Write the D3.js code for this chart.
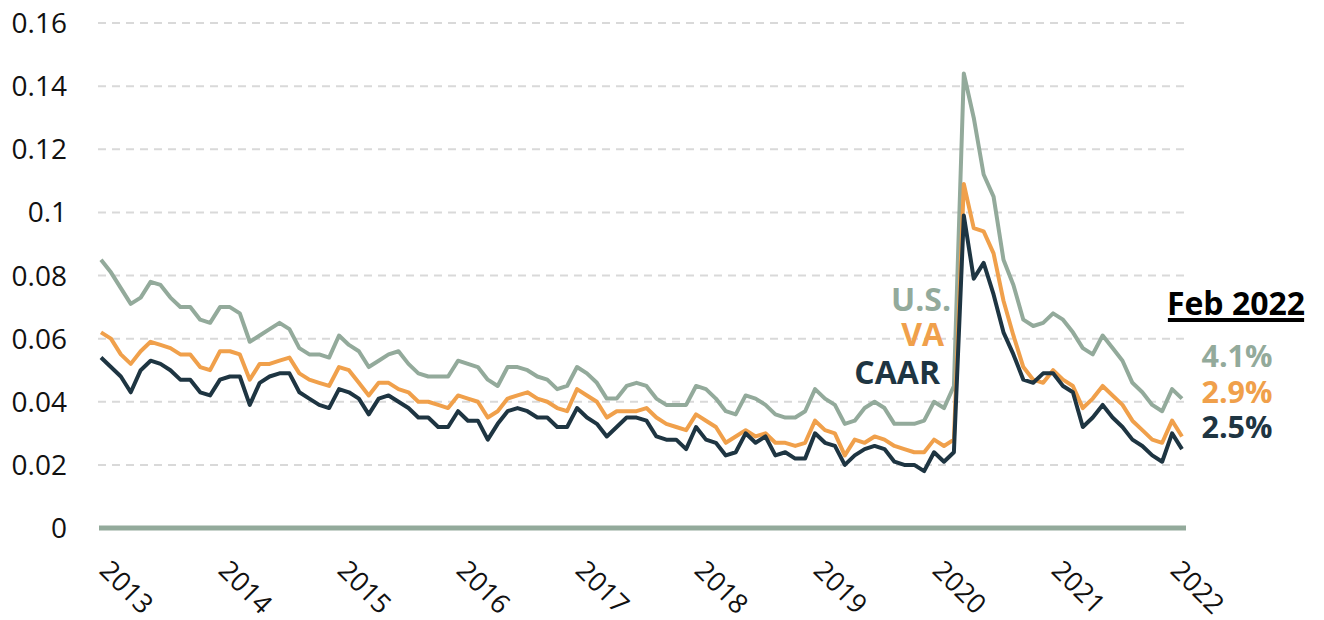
<!DOCTYPE html>
<html>
<head>
<meta charset="utf-8">
<script src="https://cdn.jsdelivr.net/npm/d3@7"></script>
<style>
    body { margin: 0; background: #fff; }
    svg { font-family: "Open Sans", sans-serif; }
</style>
</head>
<body>
<svg id="grafico" width="1324" height="620"></svg>
<script>

// monthly unemployment rate, Jan 2013 - Feb 2022 (percent)
const usRate = [
    8.5, 8.1, 7.6, 7.1, 7.3, 7.8, 7.7, 7.3, 7.0, 7.0, 6.6, 6.5,
    7.0, 7.0, 6.8, 5.9, 6.1, 6.3, 6.5, 6.3, 5.7, 5.5, 5.5, 5.4,
    6.1, 5.8, 5.6, 5.1, 5.3, 5.5, 5.6, 5.2, 4.9, 4.8, 4.8, 4.8,
    5.3, 5.2, 5.1, 4.7, 4.5, 5.1, 5.1, 5.0, 4.8, 4.7, 4.4, 4.5,
    5.1, 4.9, 4.6, 4.1, 4.1, 4.5, 4.6, 4.5, 4.1, 3.9, 3.9, 3.9,
    4.5, 4.4, 4.1, 3.7, 3.6, 4.2, 4.1, 3.9, 3.6, 3.5, 3.5, 3.7,
    4.4, 4.1, 3.9, 3.3, 3.4, 3.8, 4.0, 3.8, 3.3, 3.3, 3.3, 3.4,
    4.0, 3.8, 4.5, 14.4, 13.0, 11.2, 10.5, 8.5, 7.7, 6.6, 6.4, 6.5,
    6.8, 6.6, 6.2, 5.7, 5.5, 6.1, 5.7, 5.3, 4.6, 4.3, 3.9, 3.7,
    4.4, 4.1
];

const vaRate = [
    6.2, 6.0, 5.5, 5.2, 5.6, 5.9, 5.8, 5.7, 5.5, 5.5, 5.1, 5.0,
    5.6, 5.6, 5.5, 4.7, 5.2, 5.2, 5.3, 5.4, 4.9, 4.7, 4.6, 4.5,
    5.1, 5.0, 4.6, 4.2, 4.6, 4.6, 4.4, 4.3, 4.0, 4.0, 3.9, 3.8,
    4.2, 4.1, 4.0, 3.5, 3.7, 4.1, 4.2, 4.3, 4.1, 4.0, 3.8, 3.7,
    4.4, 4.2, 4.0, 3.5, 3.7, 3.7, 3.7, 3.8, 3.5, 3.3, 3.2, 3.1,
    3.6, 3.4, 3.2, 2.7, 2.9, 3.1, 2.9, 3.0, 2.7, 2.7, 2.6, 2.7,
    3.4, 3.1, 3.0, 2.3, 2.8, 2.7, 2.9, 2.8, 2.6, 2.5, 2.4, 2.4,
    2.8, 2.6, 2.8, 10.9, 9.5, 9.4, 8.7, 7.2, 6.1, 5.1, 4.7, 4.6,
    5.0, 4.7, 4.5, 3.8, 4.1, 4.5, 4.2, 3.9, 3.4, 3.1, 2.8, 2.7,
    3.4, 2.9
];

const caarRate = [
    5.4, 5.1, 4.8, 4.3, 5.0, 5.3, 5.2, 5.0, 4.7, 4.7, 4.3, 4.2,
    4.7, 4.8, 4.8, 3.9, 4.6, 4.8, 4.9, 4.9, 4.3, 4.1, 3.9, 3.8,
    4.4, 4.3, 4.1, 3.6, 4.1, 4.2, 4.0, 3.8, 3.5, 3.5, 3.2, 3.2,
    3.7, 3.4, 3.4, 2.8, 3.3, 3.7, 3.8, 3.7, 3.5, 3.5, 3.2, 3.2,
    3.8, 3.5, 3.3, 2.9, 3.2, 3.5, 3.5, 3.4, 2.9, 2.8, 2.8, 2.5,
    3.2, 2.8, 2.7, 2.3, 2.4, 3.0, 2.7, 2.9, 2.3, 2.4, 2.2, 2.2,
    3.0, 2.7, 2.6, 2.0, 2.3, 2.5, 2.6, 2.5, 2.1, 2.0, 2.0, 1.8,
    2.4, 2.1, 2.4, 9.9, 7.9, 8.4, 7.4, 6.2, 5.5, 4.7, 4.6, 4.9,
    4.9, 4.5, 4.3, 3.2, 3.5, 3.9, 3.5, 3.2, 2.8, 2.6, 2.3, 2.1,
    3.0, 2.5
];

const seriesNames = ["U.S.", "VA", "CAAR"];
const yearLabels = ["2013", "2014", "2015", "2016", "2017", "2018", "2019", "2020", "2021", "2022"];
const yTicks = [0, 0.02, 0.04, 0.06, 0.08, 0.1, 0.12, 0.14, 0.16];
const lastMonthLabel = "Feb 2022";

const colores = ["#93aa9b", "#f0a04b", "#1e3542"];

const svg = d3.select("#grafico");

const x = d3.scaleLinear()
    .domain([0, usRate.length - 1])
    .range([101, 1182]);

const y = d3.scaleLinear()
    .domain([0, 0.16])
    .range([528, 23]);

// gridlines
svg.append("g")
    .selectAll("line")
    .data(yTicks.filter(d => d > 0))
    .enter()
    .append("line")
    .attr("x1", 98)
    .attr("x2", 1186)
    .attr("y1", d => y(d))
    .attr("y2", d => y(d))
    .attr("stroke", "#d9d9d9")
    .attr("stroke-width", 2)
    .attr("stroke-dasharray", "8,6");

// y labels
svg.append("g")
    .selectAll("text")
    .data(yTicks)
    .enter()
    .append("text")
    .attr("x", 67)
    .attr("y", d => y(d))
    .attr("dy", "0.36em")
    .attr("text-anchor", "end")
    .style("font-size", "28px")
    .style("fill", "#111")
    .text(d => String(d));

// base axis
svg.append("line")
    .attr("x1", 99)
    .attr("x2", 1186)
    .attr("y1", y(0))
    .attr("y2", y(0))
    .attr("stroke", colores[0])
    .attr("stroke-width", 5);

// year labels
svg.append("g")
    .selectAll("text")
    .data(yearLabels)
    .enter()
    .append("text")
    .attr("transform", (d, i) => `translate(${x(i * 12) - 3},572) rotate(45)`)
    .style("font-size", "27px")
    .style("fill", "#111")
    .text(d => d);

// lines
const linea = d3.line()
    .x((d, i) => x(i))
    .y(d => y(d / 100));

[usRate, vaRate, caarRate].forEach((serie, k) => {

    svg.append("path")
        .datum(serie)
        .attr("d", linea)
        .attr("fill", "none")
        .attr("stroke", colores[k])
        .attr("stroke-width", 4)
        .attr("stroke-linejoin", "round");

});

// series names
const nombresX = [951, 944, 940];
const nombresY = [311, 346, 384];

seriesNames.forEach((nombre, k) => {

    svg.append("text")
        .attr("x", nombresX[k])
        .attr("y", nombresY[k])
        .attr("text-anchor", "end")
        .style("font-size", "32px")
        .style("font-weight", "bold")
        .style("fill", colores[k])
        .text(nombre);

});

// last value block
const titulo = svg.append("text")
    .attr("x", 1236)
    .attr("y", 315)
    .attr("text-anchor", "middle")
    .style("font-size", "32px")
    .style("font-weight", "bold")
    .style("fill", "#000")
    .text(lastMonthLabel);

const caja = titulo.node().getBBox();

svg.append("rect")
    .attr("x", caja.x + 1)
    .attr("y", 318)
    .attr("width", caja.width - 2)
    .attr("height", 4)
    .attr("fill", "#000");

const valoresY = [367, 403, 438];

[usRate, vaRate, caarRate].forEach((serie, k) => {

    svg.append("text")
        .attr("x", 1237)
        .attr("y", valoresY[k])
        .attr("text-anchor", "middle")
        .style("font-size", "30.5px")
        .style("font-weight", "bold")
        .style("fill", colores[k])
        .text(serie[serie.length - 1].toFixed(1) + "%");

});

</script>
</body>
</html>
